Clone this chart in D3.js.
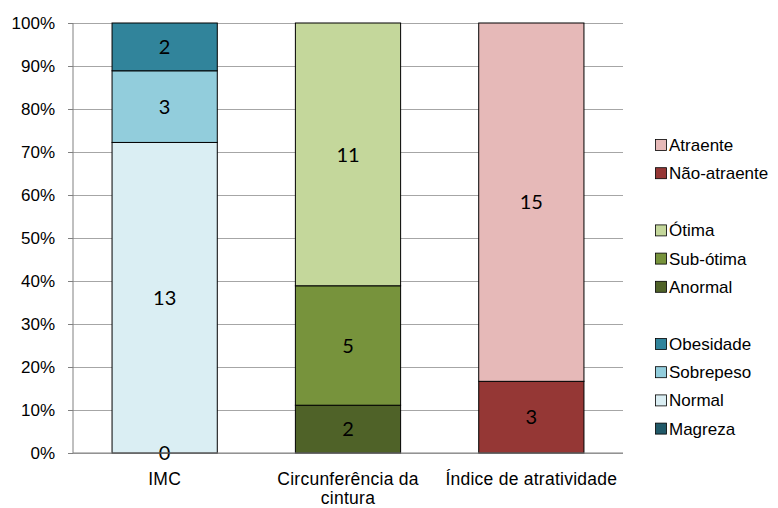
<!DOCTYPE html>
<html>
<head>
<meta charset="utf-8">
<script src="https://cdn.jsdelivr.net/npm/d3@7"></script>
<style>
  body { margin: 0; background: #fff; }
  .axis text { font-family: "Liberation Sans", Arial, sans-serif; font-size: 17px; fill: #000; }
  .xlab text { font-family: "Liberation Sans", Arial, sans-serif; font-size: 17.5px; fill: #000; letter-spacing: 0.25px; }
  .bar-label { font-family: Lato, "Open Sans", sans-serif; font-size: 20px; fill: #000; }
  .legend text { font-family: "Liberation Sans", Arial, sans-serif; font-size: 17px; fill: #000; }
</style>
</head>
<body>
<div id="chart"></div>
<script>
const categories = ['IMC', 'Circunferência da cintura', 'Índice de atratividade'];

// series per bar, bottom to top
const imcSeries = ['Magreza', 'Normal', 'Sobrepeso', 'Obesidade'];
const imcValues = [0, 13, 3, 2];
const imcColors = ['#215968', '#DAEEF3', '#92CDDC', '#31849B'];

const cinturaSeries = ['Anormal', 'Sub-ótima', 'Ótima'];
const cinturaValues = [2, 5, 11];
const cinturaColors = ['#4F6228', '#77933C', '#C4D79B'];

const atrSeries = ['Não-atraente', 'Atraente'];
const atrValues = [3, 15];
const atrColors = ['#953735', '#E6B9B8'];

const yTicks = [0, 0.1, 0.2, 0.3, 0.4, 0.5, 0.6, 0.7, 0.8, 0.9, 1];

const groups = [
    { cat: categories[0], series: imcSeries, values: imcValues, colors: imcColors },
    { cat: categories[1], series: cinturaSeries, values: cinturaValues, colors: cinturaColors },
    { cat: categories[2], series: atrSeries, values: atrValues, colors: atrColors }
];

const width = 778, height = 508;
const margin = { top: 23, left: 73, right: 155, bottom: 55 };
const plotW = width - margin.left - margin.right;
const plotH = height - margin.top - margin.bottom;

const svg = d3.select('#chart').append('svg')
    .attr('width', width)
    .attr('height', height);

const g = svg.append('g')
    .attr('transform', `translate(${margin.left}, ${margin.top})`);

const xScale = d3.scaleBand()
    .domain(categories)
    .range([0, plotW])
    .paddingInner(0.426)
    .paddingOuter(0.213);

const yScale = d3.scaleLinear()
    .domain([0, 1])
    .range([plotH, 0]);

// gridlines
g.append('g')
    .attr('class', 'grid')
    .call(d3.axisLeft(yScale).tickValues(yTicks).tickSize(-plotW).tickFormat(''))
    .call(s => s.select('.domain').remove())
    .call(s => s.selectAll('line').attr('stroke', '#a6a6a6').attr('stroke-width', 1));

// y axis
const yAxis = g.append('g')
    .attr('class', 'axis')
    .call(d3.axisLeft(yScale).tickValues(yTicks).tickSize(5).tickPadding(13)
        .tickFormat(d3.format('.0%')));
yAxis.select('.domain').attr('stroke', '#808080').attr('d', `M0,0V${plotH}`);
yAxis.selectAll('line').attr('stroke', '#808080');

// bars
groups.forEach(grp => {
    const total = d3.sum(grp.values);
    let acc = 0;
    const segs = grp.values.map((v, i) => {
        const s = { y0: acc / total, y1: (acc + v) / total, v: v, color: grp.colors[i] };
        acc += v;
        return s;
    });
    const bg = g.append('g');
    bg.selectAll('rect')
        .data(segs.filter(d => d.v > 0))
        .enter()
        .append('rect')
        .attr('x', xScale(grp.cat))
        .attr('width', xScale.bandwidth())
        .attr('y', d => yScale(d.y1))
        .attr('height', d => yScale(d.y0) - yScale(d.y1))
        .attr('fill', d => d.color)
        .attr('stroke', '#000')
        .attr('stroke-width', 1);
    bg.selectAll('text')
        .data(segs)
        .enter()
        .append('text')
        .attr('class', 'bar-label')
        .attr('x', xScale(grp.cat) + xScale.bandwidth() / 2)
        .attr('y', d => (yScale(d.y0) + yScale(d.y1)) / 2)
        .attr('dy', '0.36em')
        .attr('text-anchor', 'middle')
        .text(d => d.v);
});

// x axis baseline
g.append('line')
    .attr('x1', 0).attr('x2', plotW)
    .attr('y1', plotH).attr('y2', plotH)
    .attr('stroke', '#808080');

// x labels (wrapped)
const xLabels = g.append('g').attr('class', 'xlab');
categories.forEach(c => {
    const lines = c === categories[1] ? ['Circunferência da', 'cintura'] : [c];
    const t = xLabels.append('text')
        .attr('x', xScale(c) + xScale.bandwidth() / 2)
        .attr('y', plotH + 32)
        .attr('text-anchor', 'middle');
    lines.forEach((l, i) => {
        t.append('tspan')
            .attr('x', xScale(c) + xScale.bandwidth() / 2)
            .attr('dy', i === 0 ? 0 : 18.5)
            .text(l);
    });
});

// legend
const legendGroups = [
    { series: atrSeries.slice().reverse(), colors: atrColors.slice().reverse() },
    { series: cinturaSeries.slice().reverse(), colors: cinturaColors.slice().reverse() },
    { series: imcSeries.slice(1).reverse().concat([imcSeries[0]]),
      colors: imcColors.slice(1).reverse().concat([imcColors[0]]) }
];
const legend = svg.append('g').attr('class', 'legend');
let ly = 145;
legendGroups.forEach(lg => {
    lg.series.forEach((s, i) => {
        const item = legend.append('g').attr('transform', `translate(655, ${ly})`);
        item.append('rect')
            .attr('x', 0.5).attr('y', -5.5)
            .attr('width', 11).attr('height', 11)
            .attr('fill', lg.colors[i])
            .attr('stroke', '#000')
            .attr('stroke-width', 0.8);
        item.append('text')
            .attr('x', 14).attr('y', 0)
            .attr('dy', '0.35em')
            .text(s);
        ly += 28.2;
    });
    ly += 29;
});
</script>
</body>
</html>
